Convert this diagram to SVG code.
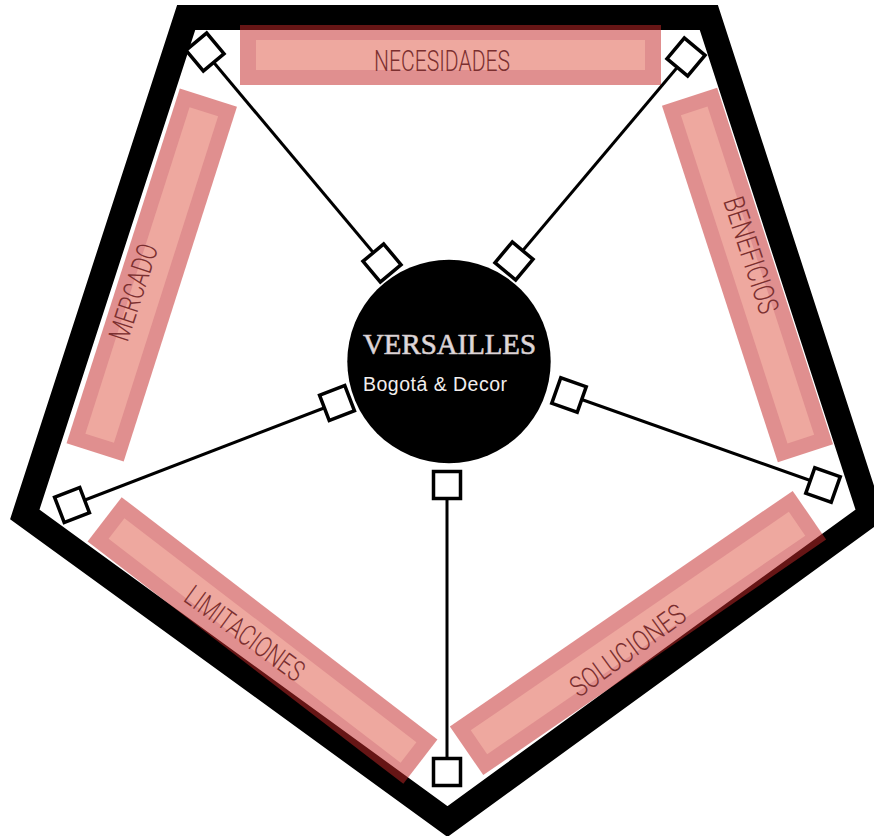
<svg xmlns="http://www.w3.org/2000/svg" xmlns:xlink="http://www.w3.org/1999/xlink" width="874" height="836" viewBox="0 0 874 836">
<style>
.frame{fill:#fff;stroke:#000;stroke-width:25;stroke-linejoin:miter}
.bar{fill:rgb(196,40,40);fill-opacity:0.52}
.barin{fill:#eea89f}
.lbl{font-family:Roboto,"Liberation Sans",sans-serif;font-weight:300;font-size:29px;fill:#7b2f2f;text-anchor:middle}
.ln{stroke:#000;stroke-width:3;fill:none}
.t1{font-family:"Liberation Serif",serif;font-size:30px;fill:#e2dadc;stroke:#cfc7c9;stroke-width:0.7}
.t2{font-family:"Liberation Sans",sans-serif;font-size:19.5px;fill:#f2eeee}
</style>
<defs>
<rect id="sq" x="-13.5" y="-13.5" width="27" height="27" fill="#fff" stroke="#000" stroke-width="3.5"/>
</defs>
<g id="frame">
<polygon class="frame" points="186.2,17.4 708.8,17.4 870.2,514.4 447.5,821.5 24.8,514.4"/>
</g>
<g id="necesidades">
<rect class="bar" x="240" y="25" width="421" height="60"/>
<rect class="barin" x="256" y="40" width="389" height="30"/>
<text class="lbl" x="442" y="71" textLength="136" lengthAdjust="spacingAndGlyphs">NECESIDADES</text>
</g>
<g id="mercado" transform="translate(151.75,275) rotate(-72.3)">
<rect class="bar" x="-186.3" y="-30" width="372.6" height="60"/>
<rect class="barin" x="-171.3" y="-15" width="342.6" height="30"/>
</g>
<g id="mercado-label" transform="translate(133,292) rotate(-72)">
<text class="lbl" x="0" y="10.5" textLength="100" lengthAdjust="spacingAndGlyphs">MERCADO</text>
</g>
<g id="beneficios" transform="translate(747.5,275) rotate(72)">
<rect class="bar" x="-187.5" y="-29" width="375" height="58"/>
<rect class="barin" x="-172.5" y="-14" width="345" height="28"/>
</g>
<g id="beneficios-label" transform="translate(751.7,255) rotate(72)">
<text class="lbl" x="0" y="10.5" textLength="121" lengthAdjust="spacingAndGlyphs">BENEFICIOS</text>
</g>
<g id="limitaciones" transform="translate(262.5,640.5) rotate(37.5)">
<rect class="bar" x="-199" y="-28" width="398" height="56"/>
<rect class="barin" x="-184" y="-13" width="368" height="26"/>
</g>
<g id="limitaciones-label" transform="translate(245,633) rotate(36)">
<text class="lbl" x="0" y="10.5" textLength="140" lengthAdjust="spacingAndGlyphs">LIMITACIONES</text>
</g>
<g id="soluciones" transform="translate(638,633) rotate(-34.5)">
<rect class="bar" x="-208" y="-29.5" width="416" height="59"/>
<rect class="barin" x="-193" y="-14.5" width="386" height="29"/>
</g>
<g id="soluciones-label" transform="translate(627.5,650) rotate(-36)">
<text class="lbl" x="0" y="10.5" textLength="135" lengthAdjust="spacingAndGlyphs">SOLUCIONES</text>
</g>
<g id="connectors">
<line class="ln" x1="205" y1="52" x2="382" y2="263"/>
<line class="ln" x1="686" y1="57" x2="514" y2="261"/>
<line class="ln" x1="823" y1="485" x2="569" y2="395"/>
<line class="ln" x1="447" y1="772" x2="447" y2="485"/>
<line class="ln" x1="72" y1="505" x2="337" y2="403"/>
<use xlink:href="#sq" transform="translate(205,52) rotate(50)"/>
<use xlink:href="#sq" transform="translate(382,263) rotate(50)"/>
<use xlink:href="#sq" transform="translate(686,57) rotate(40)"/>
<use xlink:href="#sq" transform="translate(514,261) rotate(40)"/>
<use xlink:href="#sq" transform="translate(823,485) rotate(19.5)"/>
<use xlink:href="#sq" transform="translate(569,395) rotate(19.5)"/>
<use xlink:href="#sq" transform="translate(447,772)"/>
<use xlink:href="#sq" transform="translate(447,485)"/>
<use xlink:href="#sq" transform="translate(72,505) rotate(-21)"/>
<use xlink:href="#sq" transform="translate(337,403) rotate(-21)"/>
</g>
<g id="versailles">
<circle cx="449" cy="361.5" r="101.7" fill="#000"/>
<text class="t1" x="363" y="354" textLength="173" lengthAdjust="spacingAndGlyphs">VERSAILLES</text>
<text class="t2" x="363" y="391" textLength="144" lengthAdjust="spacing">Bogotá &amp; Decor</text>
</g>
</svg>
